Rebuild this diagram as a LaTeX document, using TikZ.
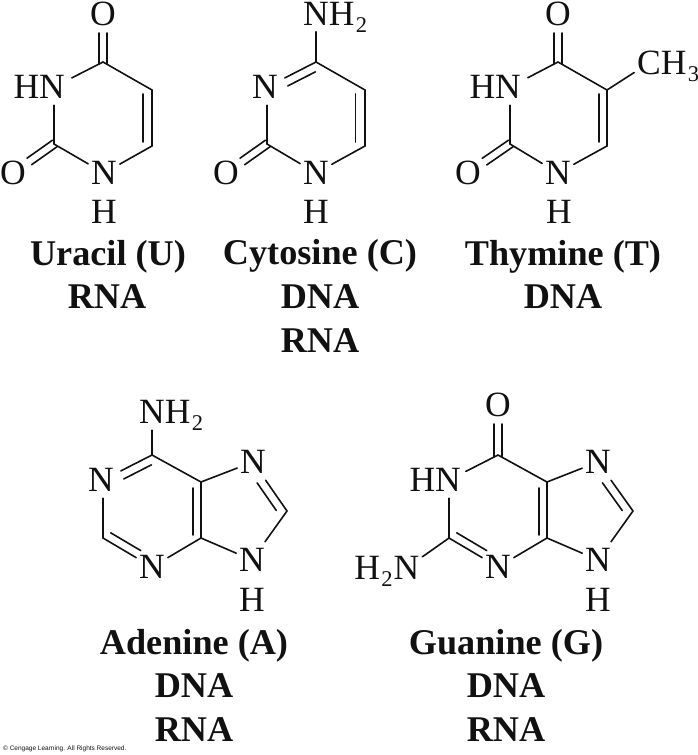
\documentclass[tikz,border=0pt]{standalone}
\usepackage{fontspec}
\setmainfont{Liberation Serif}
\newfontfamily\smallsans{Liberation Sans}
\usetikzlibrary{calc}
\definecolor{ink}{HTML}{111111}
\newcommand{\subnum}[1]{\kern1.5pt\raisebox{-7pt}{\fontsize{22.5}{22.5}\selectfont #1}}
\newcommand{\bond}[2]{\draw[bondline] (#1) -- (#2);}
% \dblb{a}{b}{offset}{shorten at a}{shorten at b}: positive offset = left of a->b on the page
\newcommand{\dblb}[5]{\draw[bondline,shorten <=#4pt,shorten >=#5pt]
  ($(#1)!#3pt!90:(#2)$) -- ($(#2)!#3pt!-90:(#1)$);}
\tikzset{
  atom/.style={font=\fontsize{35.5}{38}\selectfont,text=ink,text height=23.5pt,text depth=0pt,
    inner xsep=3pt,inner ysep=6.5pt,outer sep=0pt},
  topatom/.style={atom,inner ysep=1.5pt},
  caption/.style={font=\fontsize{36.2}{40}\bfseries\selectfont,text=ink,text height=25pt,text depth=0pt,
    inner sep=0pt},
  bondline/.style={draw=ink,line width=1.6pt,line cap=round,line join=round},
  credit/.style={font=\fontsize{6.5}{8}\smallsans\selectfont,text=ink,anchor=west,inner sep=0pt}
}
\begin{document}
\begin{tikzpicture}[x=1pt,y=-1pt]
\useasboundingbox (0,0) rectangle (698,755);
% ---------- Uracil ----------
\coordinate (uC4) at (103,62);
\coordinate (uC5) at (152,90);
\coordinate (uC6) at (152,146);
\coordinate (uC2) at (54,144);
\node[topatom] (uO4) at (103,14) {O};
\node[atom] (uO2) at (13,173) {O};
\node[atom] (uN3) at (54,87) {\llap{H}N\kern4pt};
\node[atom] (uN1) at (104,173) {N};
\node[atom] (uH) at (104,212) {H};
\dblb{uC4}{uO4}{4}{-2}{19}
\dblb{uC4}{uO4}{-4}{-2}{19}
\bond{uC4}{uN3}
\bond{uC4}{uC5}
\bond{uC5}{uC6}
\dblb{uC5}{uC6}{-9}{4}{4}
\bond{uC6}{uN1}
\bond{uN1}{uC2}
\bond{uC2}{uN3}
\dblb{uC2}{uO2}{4}{-1}{20}
\dblb{uC2}{uO2}{-4}{-1}{20}
\node[caption] (uName) at (108,253) {Uracil (U)};
\node[caption] (uNa) at (107,296) {RNA};
% ---------- Cytosine ----------
\coordinate (cC4) at (316,62);
\coordinate (cC5) at (365,90);
\coordinate (cC6) at (365,146);
\coordinate (cC2) at (267,144);
\node[topatom] (cN4) at (316,13.5) {N\rlap{H\subnum{2}}};
\node[atom] (cO2) at (226,173) {O};
\node[atom] (cN3) at (267,87) {N\kern4pt};
\node[atom] (cN1) at (316,173) {N};
\node[atom] (cH) at (316,212) {H};
\draw[bondline,shorten >=5pt] (cC4) -- (cN4);
\bond{cC4}{cN3}
\dblb{cC4}{cN3}{8.5}{5}{19}
\bond{cC4}{cC5}
\bond{cC5}{cC6}
\dblb{cC5}{cC6}{-9.5}{4}{4}
\bond{cC6}{cN1}
\bond{cN1}{cC2}
\bond{cC2}{cN3}
\dblb{cC2}{cO2}{4}{-1}{20}
\dblb{cC2}{cO2}{-4}{-1}{20}
\node[caption] (cName) at (320,252) {Cytosine (C)};
\node[caption] (cNa) at (320,296) {DNA};
\node[caption] (cNb) at (320,340) {RNA};
% ---------- Thymine ----------
\coordinate (tC4) at (558,62);
\coordinate (tC5) at (607,90);
\coordinate (tC6) at (607,146);
\coordinate (tC2) at (510,144);
\node[topatom] (tO4) at (558,14) {O};
\node[atom] (tO2) at (468,173) {O};
\node[atom] (tN3) at (510,87) {\llap{H}N\kern4pt};
\node[atom] (tN1) at (558,173) {N};
\node[atom] (tH) at (559,212) {H};
\node[atom] (tMe) at (649,63) {C\rlap{H\subnum{3}}};
\dblb{tC4}{tO4}{4}{-2}{19}
\dblb{tC4}{tO4}{-4}{-2}{19}
\bond{tC4}{tN3}
\bond{tC4}{tC5}
\bond{tC5}{tMe}
\bond{tC5}{tC6}
\dblb{tC5}{tC6}{-8}{4}{4}
\bond{tC6}{tN1}
\bond{tN1}{tC2}
\bond{tC2}{tN3}
\dblb{tC2}{tO2}{4}{-1}{20}
\dblb{tC2}{tO2}{-4}{-1}{20}
\node[caption] (tName) at (563,253) {Thymine (T)};
\node[caption] (tNa) at (563,296) {DNA};
% ---------- Adenine ----------
\coordinate (aC6) at (152,455);
\coordinate (aC2) at (103,538);
\coordinate (aC4) at (201,538);
\coordinate (aC5) at (201,482);
\coordinate (aC8) at (287,511);
\node[atom] (aN6) at (152,412) {N\rlap{H\subnum{2}}};
\node[atom] (aN1) at (103,480) {N\kern4pt};
\node[atom] (aN3) at (152,567) {N};
\node[atom] (aN7) at (253,462) {N};
\node[atom] (aN9) at (252,560) {N};
\node[atom] (aH) at (252,600) {H};
\bond{aC6}{aN6}
\bond{aC6}{aN1}
\dblb{aC6}{aN1}{8.5}{5}{19}
\bond{aC6}{aC5}
\bond{aC5}{aC4}
\dblb{aC5}{aC4}{-8}{6}{3}
\bond{aN1}{aC2}
\bond{aC2}{aN3}
\dblb{aC2}{aN3}{8.4}{4}{18}
\bond{aN3}{aC4}
\bond{aC4}{aN9}
\bond{aC5}{aN7}
\bond{aN7}{aC8}
\dblb{aN7}{aC8}{-8.5}{19.5}{6.6}
\bond{aC8}{aN9}
\node[caption] (aName) at (194,642) {Adenine (A)};
\node[caption] (aNa) at (194,685) {DNA};
\node[caption] (aNb) at (194,729) {RNA};
% ---------- Guanine ----------
\coordinate (gC6) at (498,455);
\coordinate (gC2) at (449,538);
\coordinate (gC4) at (547,538);
\coordinate (gC5) at (547,482);
\coordinate (gC8) at (633,511);
\node[atom] (gO6) at (498,405) {O};
\node[atom] (gN1) at (449,480) {\llap{H}N\kern2pt};
\node[atom] (gN2) at (406.5,568) {\llap{H\subnum{2}\kern1pt}N};
\node[atom] (gN3) at (498,567) {N};
\node[atom] (gN7) at (598,462) {N};
\node[atom] (gN9) at (598,560) {N};
\node[atom] (gH) at (598,600) {H};
\dblb{gC6}{gO6}{4}{-2}{19}
\dblb{gC6}{gO6}{-4}{-2}{19}
\bond{gC6}{gN1}
\bond{gC6}{gC5}
\bond{gC5}{gC4}
\dblb{gC5}{gC4}{-8}{6}{3}
\bond{gN1}{gC2}
\bond{gC2}{gN2}
\bond{gC2}{gN3}
\dblb{gC2}{gN3}{8.4}{4}{18}
\bond{gN3}{gC4}
\bond{gC4}{gN9}
\bond{gC5}{gN7}
\bond{gN7}{gC8}
\dblb{gN7}{gC8}{-8.5}{19.5}{6.6}
\bond{gC8}{gN9}
\node[caption] (gName) at (506,642) {Guanine (G)};
\node[caption] (gNa) at (506,685) {DNA};
\node[caption] (gNb) at (506,729) {RNA};
% ---------- credit ----------
\node[credit] (credit) at (3,749) {© Cengage Learning. All Rights Reserved.};
\end{tikzpicture}
\end{document}
